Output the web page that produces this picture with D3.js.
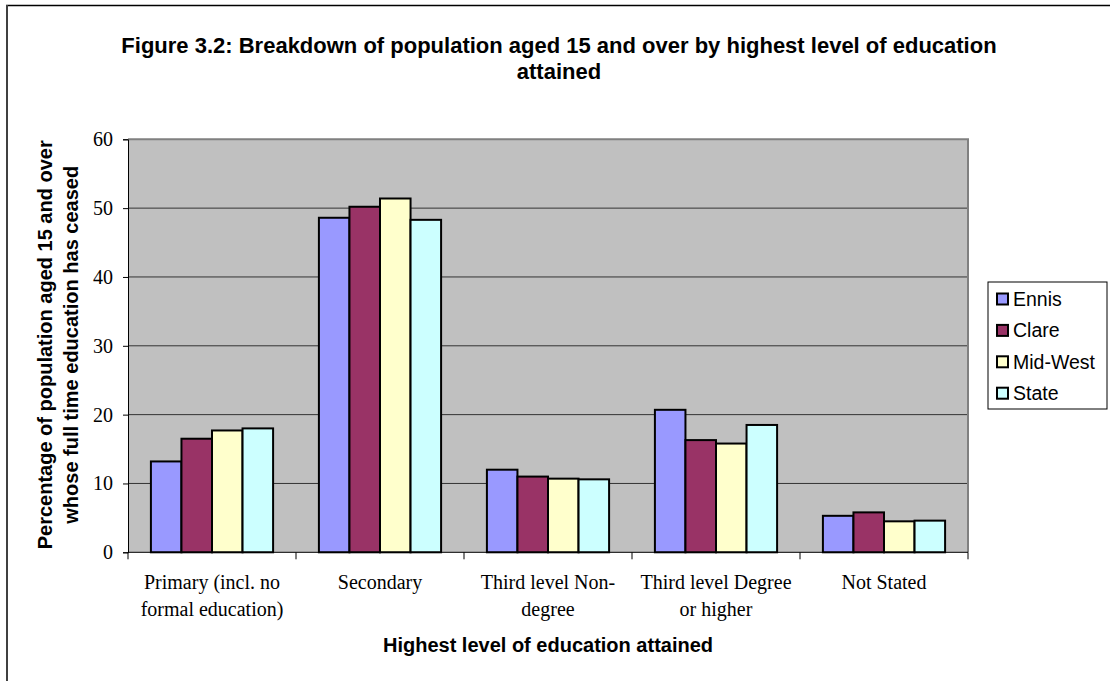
<!DOCTYPE html>
<html>
<head>
<meta charset="utf-8">
<script src="https://cdnjs.cloudflare.com/ajax/libs/d3/7.8.5/d3.min.js"></script>
<style>
  html, body { margin: 0; padding: 0; background: #fff; }
  svg { display: block; }
</style>
</head>
<body>
<svg id="chart" width="1110" height="681"></svg>
<script>
// Education attainment, population aged 15+, by area
const categories = [
  ["Primary (incl. no", "formal education)"],
  ["Secondary"],
  ["Third level Non-", "degree"],
  ["Third level Degree", "or higher"],
  ["Not Stated"]
];
const seriesNames = ["Ennis", "Clare", "Mid-West", "State"];
const ennis   = [13.2, 48.6, 12.0, 20.7, 5.3];
const clare   = [16.5, 50.2, 11.0, 16.3, 5.8];
const midWest = [17.7, 51.4, 10.7, 15.8, 4.5];
const state   = [18.0, 48.3, 10.6, 18.5, 4.6];
const seriesColors = ["#9999FF", "#993366", "#FFFFCC", "#CCFFFF"];
const yTicks = [0, 10, 20, 30, 40, 50, 60];

const seriesValues = [ennis, clare, midWest, state];

const sans = "Arial, 'Liberation Sans', sans-serif";
const serif = "'Times New Roman', 'Liberation Serif', serif";

const svg = d3.select("#chart");
const plot = { left: 128, right: 968, top: 139.3, bottom: 552.3 };

// Outer chart frame (top and left edges)
svg.append("line").attr("x1", 6).attr("x2", 1110).attr("y1", 5.5).attr("y2", 5.5)
  .attr("stroke", "#000").attr("stroke-width", 1.3);
svg.append("line").attr("x1", 7).attr("x2", 7).attr("y1", 5).attr("y2", 681)
  .attr("stroke", "#404040").attr("stroke-width", 2);

// Title
const title = svg.append("text")
  .attr("text-anchor", "middle")
  .style("font-family", sans)
  .style("font-weight", "bold").style("font-size", "22px");
title.append("tspan").attr("x", 559).attr("y", 53)
  .text("Figure 3.2: Breakdown of population aged 15 and over by highest level of education");
title.append("tspan").attr("x", 559).attr("y", 79).text("attained");

const x = d3.scaleBand()
  .domain(d3.range(categories.length))
  .range([plot.left, plot.right])
  .paddingInner(0).paddingOuter(0);

const xs = d3.scaleBand()
  .domain(seriesNames)
  .range([0, x.bandwidth()])
  .paddingInner(0).paddingOuter(0.75);

const y = d3.scaleLinear().domain([0, 60]).range([plot.bottom, plot.top]);

// Plot background
svg.append("rect")
  .attr("x", plot.left).attr("y", plot.top)
  .attr("width", plot.right - plot.left).attr("height", plot.bottom - plot.top)
  .attr("fill", "#C0C0C0");

// Gridlines
svg.append("g").selectAll("line")
  .data(yTicks.filter(t => t > 0 && t < 60))
  .join("line")
  .attr("x1", plot.left).attr("x2", plot.right)
  .attr("y1", d => y(d)).attr("y2", d => y(d))
  .attr("stroke", "#333").attr("stroke-width", 1);

// Plot border (top and right)
svg.append("path")
  .attr("d", `M${plot.left},${plot.top}H${plot.right}V${plot.bottom}`)
  .attr("fill", "none").attr("stroke", "#808080").attr("stroke-width", 2);

// Bars
const groups = svg.append("g").selectAll("g")
  .data(categories.map((c, i) => i))
  .join("g")
  .attr("transform", i => `translate(${x(i)},0)`);

groups.selectAll("rect")
  .data(i => seriesNames.map((s, k) => ({ s, k, v: seriesValues[k][i] })))
  .join("rect")
  .attr("x", d => xs(d.s))
  .attr("width", xs.bandwidth())
  .attr("y", d => y(d.v))
  .attr("height", d => y(0) - y(d.v))
  .attr("fill", d => seriesColors[d.k])
  .attr("stroke", "#000").attr("stroke-width", 2);

// Y axis
const yAxis = svg.append("g")
  .attr("transform", `translate(${plot.left},0)`)
  .call(d3.axisLeft(y).tickValues(yTicks).tickSize(5).tickPadding(10).tickFormat(d3.format("d")));
yAxis.select(".domain").attr("stroke", "#000");
yAxis.selectAll(".tick line").attr("stroke", "#000");
yAxis.selectAll("text")
  .style("font-family", serif)
  .style("font-size", "20px").attr("fill", "#000");

// X axis: category boundary ticks
const xAxisG = svg.append("g");
xAxisG.append("line")
  .attr("x1", plot.left).attr("x2", plot.right)
  .attr("y1", plot.bottom).attr("y2", plot.bottom)
  .attr("stroke", "#000").attr("stroke-width", 1);
xAxisG.selectAll(".bt")
  .data(d3.range(categories.length + 1))
  .join("line")
  .attr("class", "bt")
  .attr("x1", i => i < categories.length ? x(i) : x(categories.length - 1) + x.bandwidth())
  .attr("x2", i => i < categories.length ? x(i) : x(categories.length - 1) + x.bandwidth())
  .attr("y1", plot.bottom).attr("y2", plot.bottom + 7)
  .attr("stroke", "#000");

const xLabels = xAxisG.selectAll(".xl")
  .data(categories.map((c, i) => ({ c, i })))
  .join("text")
  .attr("class", "xl")
  .attr("text-anchor", "middle")
  .style("font-family", serif)
  .style("font-size", "20px");
xLabels.each(function(d) {
  const t = d3.select(this);
  d.c.forEach((line, j) => {
    t.append("tspan")
      .attr("x", x(d.i) + x.bandwidth() / 2)
      .attr("y", 589 + j * 26.5)
      .text(line);
  });
});

// Axis titles
svg.append("text")
  .attr("x", 548).attr("y", 652)
  .attr("text-anchor", "middle")
  .style("font-family", sans)
  .style("font-weight", "bold").style("font-size", "20px")
  .text("Highest level of education attained");

const yTitle = svg.append("text")
  .attr("transform", `translate(0,${(plot.top + plot.bottom) / 2 - 1}) rotate(-90)`)
  .attr("text-anchor", "middle")
  .style("font-family", sans)
  .style("font-weight", "bold").style("font-size", "20px");
yTitle.append("tspan").attr("x", 0).attr("y", 52).text("Percentage of population aged 15 and over");
yTitle.append("tspan").attr("x", 0).attr("y", 78).text("whose full time education has ceased");

// Legend
const legend = svg.append("g");
legend.append("rect")
  .attr("x", 988).attr("y", 282).attr("width", 119).attr("height", 127)
  .attr("fill", "#fff").attr("stroke", "#000").attr("stroke-width", 1);
const items = legend.selectAll(".li")
  .data(seriesNames)
  .join("g").attr("class", "li")
  .attr("transform", (d, i) => `translate(0,${299 + i * 31.4})`);
items.append("rect")
  .attr("x", 997).attr("y", -5.5).attr("width", 11).attr("height", 11)
  .attr("fill", (d, i) => seriesColors[i]).attr("stroke", "#000").attr("stroke-width", 2);
items.append("text")
  .attr("x", 1013).attr("y", 7)
  .style("font-family", sans)
  .style("font-size", "19.5px")
  .text(d => d);
</script>
</body>
</html>
